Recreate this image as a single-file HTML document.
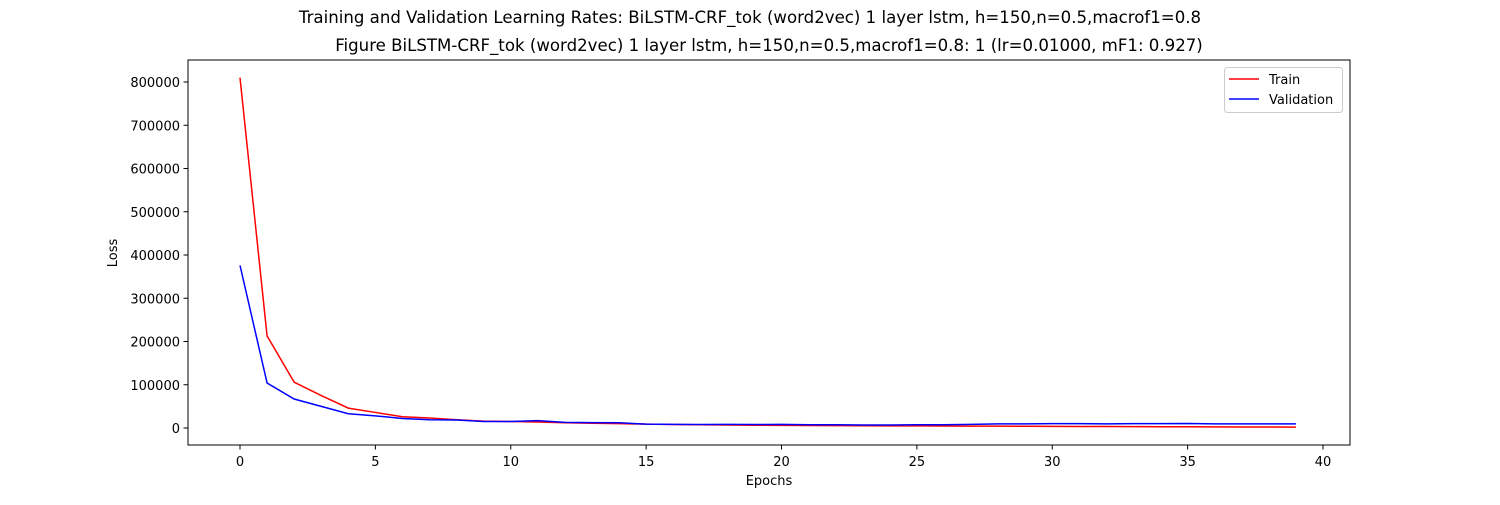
<!DOCTYPE html>
<html><head><meta charset="utf-8"><style>
body{margin:0;background:#fff;font-family:"Liberation Sans","DejaVu Sans",sans-serif}
svg text{font-family:"DejaVu Sans","Liberation Sans",sans-serif;fill:#000}
</style></head><body>
<svg id="chart" width="1500" height="500" xmlns="http://www.w3.org/2000/svg">
<rect width="1500" height="500" fill="#fff"/>
<text x="750" y="23" font-size="16.6" text-anchor="middle">Training and Validation Learning Rates: BiLSTM-CRF_tok (word2vec) 1 layer lstm, h=150,n=0.5,macrof1=0.8</text>
<text x="769" y="51" font-size="16.6" text-anchor="middle">Figure BiLSTM-CRF_tok (word2vec) 1 layer lstm, h=150,n=0.5,macrof1=0.8: 1 (lr=0.01000, mF1: 0.927)</text>
<g id="xt"></g><g id="yt"></g><g id="lines"></g>
<rect x="188" y="60" width="1162" height="385" fill="none" stroke="#000" stroke-width="1"/>
<text x="769" y="485" font-size="13" text-anchor="middle">Epochs</text>
<text x="117" y="253" font-size="13" text-anchor="middle" transform="rotate(-90 117 253)">Loss</text>
<g>
<rect x="1224.5" y="67.5" width="118" height="45" rx="3" fill="#fff" stroke="#ccc"/>
<line x1="1229" y1="79" x2="1259" y2="79" stroke="red" stroke-width="1.5"/>
<text x="1269" y="84" font-size="13">Train</text>
<line x1="1229" y1="99" x2="1259" y2="99" stroke="blue" stroke-width="1.5"/>
<text x="1269" y="104" font-size="13">Validation</text>
</g>
</svg>
<script>
const epochs=[...Array(40).keys()];
const trainLoss=[810000,213000,106000,75000,46000,36000,26000,23000,19000,16000,15000,14000,12000,11000,10000,9000,8000,7500,7000,6500,6000,5800,5500,5200,5000,4800,4600,4400,4200,4000,3800,3600,3400,3200,3000,2800,2600,2400,2200,2000];
const valLoss=[376000,104000,67000,50000,33000,28000,22000,19000,18500,15000,15000,17000,13000,12500,12000,9000,8500,8000,8500,8000,8500,7500,7500,7000,7000,7500,7500,8500,9500,9500,10000,10000,9500,10000,10000,10500,9500,9500,9500,9500];
const xTicks=[0,5,10,15,20,25,30,35,40];
const yTicks=[0,100000,200000,300000,400000,500000,600000,700000,800000];
const NS="http://www.w3.org/2000/svg";
const xs=v=>240+v*(1323-240)/40;
const ys=v=>428-v*346/800000;
function mk(t,a,p){const e=document.createElementNS(NS,t);for(const k in a)e.setAttribute(k,a[k]);p.appendChild(e);return e;}
const xt=document.getElementById('xt'),yt=document.getElementById('yt'),lg=document.getElementById('lines');
xTicks.forEach(v=>{
 const l=mk('line',{x1:xs(v),x2:xs(v),y1:445,y2:449.5,stroke:'#000'},xt);
 
 
 const t=mk('text',{x:xs(v),y:466,'font-size':13,'text-anchor':'middle'},xt);t.textContent=v;
 
 
});
yTicks.forEach(v=>{
 const l=mk('line',{x1:183.5,x2:188,y1:ys(v),y2:ys(v),stroke:'#000'},yt);
 
 
 const t=mk('text',{x:180,y:ys(v)+5,'font-size':13,'text-anchor':'end'},yt);t.textContent=v;
 
 
});
function series(d,c,n){
 const p=mk('polyline',{points:d.map((v,i)=>xs(epochs[i])+','+ys(v)).join(' '),fill:'none',stroke:c,'stroke-width':1.5},lg);
 
 
}
series(trainLoss,'red','train-line');
series(valLoss,'blue','validation-line');
</script>
</body></html>
